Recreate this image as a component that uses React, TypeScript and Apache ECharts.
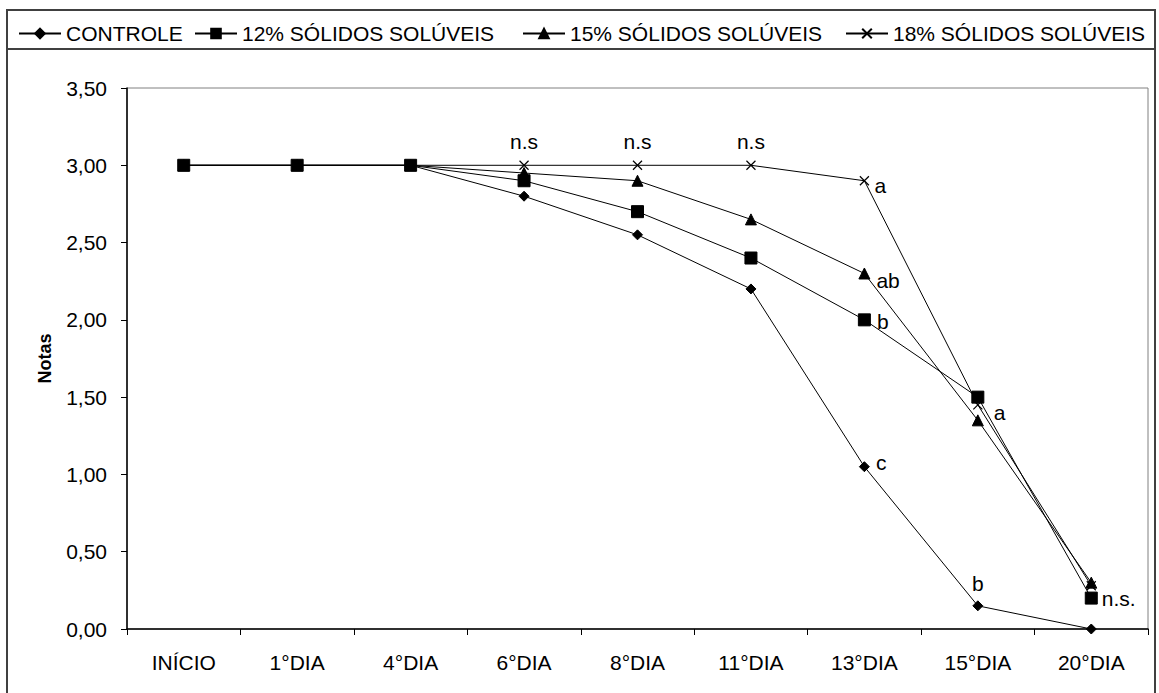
import React, { useEffect, useRef } from "react";
import * as echarts from "echarts";

// Categories on the time axis
const categories = ["INÍCIO", "1°DIA", "4°DIA", "6°DIA", "8°DIA", "11°DIA", "13°DIA", "15°DIA", "20°DIA"];

// Sensory scores per treatment
const controle = [3.0, 3.0, 3.0, 2.8, 2.55, 2.2, 1.05, 0.15, 0.0];
const solidos12 = [3.0, 3.0, 3.0, 2.9, 2.7, 2.4, 2.0, 1.5, 0.2];
const solidos15 = [3.0, 3.0, 3.0, 2.95, 2.9, 2.65, 2.3, 1.35, 0.3];
const solidos18 = [3.0, 3.0, 3.0, 3.0, 3.0, 3.0, 2.9, 1.45, 0.28];

// Significance letters attached to individual points
const letrasControle = ["", "", "", "", "", "", "c", "b", ""];
const letras12 = ["", "", "", "", "", "", "b", "", "n.s."];
const letras15 = ["", "", "", "", "", "", "ab", "a", ""];
const letras18 = ["", "", "", "n.s", "n.s", "n.s", "a", "", ""];

const seriesNames = [
  "CONTROLE",
  "12% SÓLIDOS SOLÚVEIS",
  "15% SÓLIDOS SOLÚVEIS",
  "18% SÓLIDOS SOLÚVEIS",
];

// Left edge of each legend entry
const legendLefts = [13, 189, 517, 840];

const yTicks = [0, 0.5, 1, 1.5, 2, 2.5, 3, 3.5];

const FONT = 'Arial, "Liberation Sans", sans-serif';

type LabelPlace = { position: string; offset?: number[]; distance?: number };

function buildData(values: number[], letters: string[], place: (i: number, t: string) => LabelPlace) {
  return values.map((v, i) => {
    const t = letters[i];
    if (!t) return { value: v };
    const p = place(i, t);
    return {
      value: v,
      label: {
        show: true,
        formatter: t,
        position: p.position,
        offset: p.offset || [0, 0],
        distance: p.distance ?? 5,
        color: "#000",
        fontSize: 21,
        fontFamily: FONT,
      },
    };
  });
}

const xMarker = "path://M0,0L10,10M10,0L0,10";

export default function App() {
  const ref = useRef<HTMLDivElement>(null);

  useEffect(() => {
    if (!ref.current) return;
    const chart = echarts.init(ref.current, undefined, { renderer: "svg" });

    const lineBase = {
      type: "line",
      lineStyle: { color: "#000", width: 1 },
      itemStyle: { color: "#000", borderColor: "#000", borderWidth: 1 },
      showAllSymbol: true,
      emphasis: { disabled: true },
    };

    chart.setOption({
      animation: false,
      backgroundColor: "#fff",
      textStyle: { fontFamily: FONT },
      legend: seriesNames.map((name, i) => ({
        left: legendLefts[i],
        top: 18,
        itemWidth: 42,
        itemHeight: 12,
        textStyle: { color: "#000", fontSize: 21, fontFamily: FONT },
        data: [name],
        selectedMode: false,
      })),
      grid: {
        left: 127,
        right: 11,
        top: 88,
        bottom: 64,
        show: true,
        borderColor: "#808080",
        borderWidth: 1,
        backgroundColor: "transparent",
      },
      xAxis: {
        type: "category",
        data: categories,
        boundaryGap: true,
        axisLine: { lineStyle: { color: "#000", width: 1.5 } },
        axisTick: { show: true, length: 6, lineStyle: { color: "#000" } },
        axisLabel: { color: "#000", fontSize: 21, fontFamily: FONT, margin: 23 },
        splitLine: { show: false },
      },
      yAxis: {
        type: "value",
        min: yTicks[0],
        max: yTicks[yTicks.length - 1],
        interval: 0.5,
        name: "Notas",
        nameLocation: "middle",
        nameGap: 73,
        nameRotate: 90,
        nameTextStyle: { color: "#000", fontSize: 18, fontWeight: "bold", fontFamily: FONT },
        axisLine: { show: true, lineStyle: { color: "#000", width: 1.5 } },
        axisTick: { show: true, length: 6, lineStyle: { color: "#000" } },
        axisLabel: {
          color: "#000",
          fontSize: 21,
          fontFamily: FONT,
          margin: 20,
          formatter: (v: number) => v.toFixed(2).replace(".", ","),
        },
        splitLine: { show: false },
      },
      graphic: [
        {
          type: "rect",
          shape: { x: 7, y: 10, width: 1148, height: 700 },
          style: { fill: "none", stroke: "#404040", lineWidth: 2 },
          silent: true,
          z: 100,
        },
        {
          type: "line",
          shape: { x1: 7, y1: 49, x2: 1155, y2: 49 },
          style: { stroke: "#404040", lineWidth: 2 },
          silent: true,
          z: 100,
        },
      ],
      series: [
        {
          ...lineBase,
          name: seriesNames[0],
          symbol: "diamond",
          symbolSize: 10,
          data: buildData(controle, letrasControle, (i) =>
            i === 7 ? { position: "top", distance: 6 } : { position: "right", offset: [0, -4], distance: 6 }
          ),
        },
        {
          ...lineBase,
          name: seriesNames[1],
          symbol: "rect",
          symbolSize: 12,
          data: buildData(solidos12, letras12, (i) =>
            i === 6 ? { position: "right", offset: [0, 2], distance: 6 } : { position: "right", distance: 4 }
          ),
        },
        {
          ...lineBase,
          name: seriesNames[2],
          symbol: "triangle",
          symbolSize: 11,
          data: buildData(solidos15, letras15, (i) =>
            i === 6 ? { position: "right", offset: [0, 7], distance: 6 } : { position: "right", offset: [0, -8], distance: 10 }
          ),
        },
        {
          ...lineBase,
          name: seriesNames[3],
          symbol: xMarker,
          symbolSize: 9,
          itemStyle: { color: "#000", borderColor: "#000", borderWidth: 1.2 },
          data: buildData(solidos18, letras18, (i, t) =>
            t === "n.s" ? { position: "top", distance: 8 } : { position: "right", offset: [0, 5], distance: 5 }
          ),
        },
      ],
    });

    return () => chart.dispose();
  }, []);

  return (
    <div
      ref={ref}
      style={{ position: "fixed", left: 0, top: 0, width: 1159, height: 693 }}
    />
  );
}
